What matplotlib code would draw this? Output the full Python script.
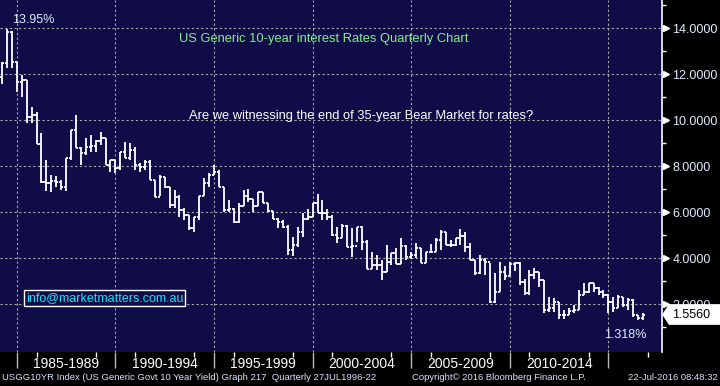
import numpy as np
import matplotlib
matplotlib.use("Agg")
import matplotlib.pyplot as plt
import matplotlib.transforms as mtransforms
from matplotlib.collections import LineCollection
from matplotlib.patches import Polygon

plt.rcParams['font.family'] = ['Liberation Sans', 'DejaVu Sans']

# US 10y yield, quarterly bars 1984 Q1 .. 2016 Q3
first_open = 11.88
highs = [12.53, 13.95, 13.88, 12.53, 11.97, 11.75, 10.58, 10.36, 9.45, 8.27,
         7.62, 7.58, 7.40, 8.36, 9.58, 10.23, 8.84, 9.23, 9.36, 9.14,
         9.49, 9.23, 8.27, 8.27, 8.62, 9.06, 9.01, 8.84, 8.14, 8.27,
         8.27, 7.40, 7.62, 7.54, 7.10, 6.97, 6.75, 6.19, 5.88, 5.80,
         6.71, 7.49, 7.71, 8.06, 7.84, 7.10, 6.54, 6.19, 6.40, 6.97,
         7.01, 6.58, 6.88, 6.88, 6.40, 6.06, 5.75, 5.67, 5.45, 4.93,
         5.36, 5.97, 6.14, 6.40, 6.80, 6.54, 6.14, 5.88, 5.36, 5.49,
         5.45, 5.32, 5.36, 5.40, 4.80, 4.27, 4.14, 3.93, 4.58, 4.23,
         4.45, 4.88, 4.58, 4.27, 4.67, 4.45, 4.27, 4.62, 4.88, 5.23,
         5.14, 4.80, 4.88, 5.27, 5.14, 4.67, 3.93, 4.14, 4.01, 3.80,
         3.36, 3.84, 3.66, 3.84, 3.84, 3.84, 3.10, 3.49, 3.58, 3.40,
         3.06, 2.32, 2.27, 2.10, 1.75, 1.84, 1.97, 2.62, 2.93, 2.93,
         2.93, 2.75, 2.62, 2.45, 2.32, 2.40, 2.32, 2.27, 2.25, 1.54,
         1.60]
lows = [11.58, 12.27, 12.27, 11.23, 11.01, 9.88, 9.88, 8.97, 7.27, 6.93,
        6.88, 7.10, 6.97, 6.93, 8.27, 8.80, 8.06, 8.49, 8.62, 8.62,
        8.93, 8.06, 7.75, 7.71, 7.84, 8.36, 8.27, 7.84, 7.75, 7.84,
        7.40, 6.67, 6.71, 7.06, 6.19, 6.19, 5.80, 5.67, 5.23, 5.14,
        5.67, 6.71, 7.10, 7.62, 7.10, 6.01, 6.01, 5.53, 5.53, 6.27,
        6.45, 6.01, 6.27, 6.40, 6.01, 5.71, 5.32, 5.32, 4.14, 4.10,
        4.49, 4.93, 5.67, 5.80, 5.97, 5.67, 5.67, 4.97, 4.67, 4.88,
        4.49, 4.06, 4.71, 4.36, 3.53, 3.53, 3.49, 3.06, 3.40, 3.71,
        3.75, 3.75, 3.93, 3.97, 4.01, 3.80, 3.80, 4.23, 4.27, 4.36,
        4.58, 4.49, 4.53, 4.58, 4.27, 3.93, 3.27, 3.30, 3.27, 2.06,
        2.06, 2.54, 3.06, 3.23, 3.45, 2.84, 2.40, 2.40, 3.10, 2.75,
        1.62, 1.67, 1.67, 1.37, 1.37, 1.54, 1.62, 1.75, 2.40, 2.49,
        2.54, 2.40, 2.27, 1.62, 1.67, 1.84, 1.88, 1.75, 1.45, 1.32,
        1.318]
closes = [12.49, 13.84, 12.53, 11.67, 11.75, 10.14, 10.23, 8.97, 7.32, 7.27,
          7.36, 7.32, 7.10, 8.36, 9.58, 8.80, 8.58, 8.84, 8.88, 9.10,
          9.23, 8.06, 8.27, 7.93, 8.62, 8.36, 8.71, 8.06, 7.97, 8.19,
          7.40, 6.67, 7.54, 7.10, 6.32, 6.67, 6.10, 5.88, 5.32, 5.80,
          6.71, 7.27, 7.62, 7.75, 7.10, 6.10, 6.14, 5.58, 6.27, 6.71,
          6.58, 6.27, 6.88, 6.40, 6.06, 5.71, 5.58, 5.36, 4.36, 4.58,
          5.14, 5.71, 5.80, 6.40, 5.97, 5.97, 5.80, 5.01, 4.88, 5.40,
          4.49, 4.53, 5.36, 4.71, 3.53, 3.71, 3.71, 3.40, 3.84, 4.23,
          3.75, 4.53, 4.06, 4.14, 4.45, 3.80, 4.27, 4.27, 4.80, 5.14,
          4.58, 4.58, 4.88, 4.97, 4.49, 3.93, 3.36, 3.93, 3.84, 2.10,
          2.54, 3.40, 3.23, 3.75, 3.80, 2.97, 2.49, 3.27, 3.40, 3.06,
          1.75, 1.84, 2.10, 1.54, 1.54, 1.71, 1.75, 2.40, 2.54, 2.93,
          2.71, 2.54, 2.40, 2.10, 1.84, 2.32, 1.97, 2.19, 1.54, 1.40,
          1.556]
opens = [first_open] + closes[:-1]
quarters = 1984.25 + 0.25 * np.arange(len(closes))  # plotted at quarter end

period_starts = [1985, 1990, 1995, 2000, 2005, 2010]
period_labels = ["1985-1989", "1990-1994", "1995-1999", "2000-2004",
                 "2005-2009", "2010-2014"]
grid_years = [1985, 1990, 1995, 2000, 2005, 2010, 2015]
small_ticks = [1986, 1989, 1991, 1994, 1996, 1999, 2001, 2004, 2006, 2009,
               2011, 2014, 2017]
y_major = [2, 4, 6, 8, 10, 12, 14]
y_minor = [1, 3, 5, 7, 9, 11, 13, 15]

NAVY = '#0f0c47'
LABEL = '#e2ecff'
W, H = 720, 386

fig = plt.figure(figsize=(7.2, 3.86), dpi=100, facecolor='black')
ax = fig.add_axes([0, 1 - 352 / H, 662 / W, 352 / H])
ax.set_facecolor(NAVY)
ax.set_xlim(1984.148, 2017.72)
ax.set_ylim(-0.074, 15.23)

# bars: high-low line, open tick left, close tick right
w = 0.11
segs = []
for t, o, h, l, c in zip(quarters, opens, highs, lows, closes):
    segs.append([(t, l), (t, h)])
    segs.append([(t - w, o), (t, o)])
    segs.append([(t, c), (t + w, c)])
ax.add_collection(LineCollection(segs, colors='white', linewidths=1.3, zorder=3))

# grid
ax.set_xticks(grid_years)
ax.set_xticks(small_ticks, minor=True)
ax.set_xticklabels([])
ax.set_yticks(y_major)
ax.set_yticks(y_minor, minor=True)
ax.set_yticklabels([f"{v:.4f}" for v in y_major])
ax.grid(True, which='major', color='#a8a8a8', linestyle=(0, (2, 2.2)), linewidth=0.8)

ax.tick_params(axis='x', which='major', length=11.5, width=1, color='#b8b8b8')
ax.tick_params(axis='x', which='minor', length=3.5, width=1, color='white')
ax.tick_params(axis='y', which='both', left=False, labelleft=False,
               right=True, labelright=True)
ax.tick_params(axis='y', which='major', length=0, pad=7.5,
               labelsize=9, labelcolor=LABEL)
ax.tick_params(axis='y', which='minor', length=3, width=1, color='white')

for s in ['top', 'left', 'bottom']:
    ax.spines[s].set_visible(False)
ax.spines['right'].set_color('white')
ax.spines['right'].set_linewidth(1.2)

trans_y = mtransforms.blended_transform_factory(ax.transAxes, ax.transData)
ax.plot(np.full(len(y_major), 1.006), y_major, ls='none', marker='>', ms=4,
        color='white', transform=trans_y, clip_on=False)

# period labels under the axis
trans_x = mtransforms.blended_transform_factory(ax.transData, ax.transAxes)
for s, lab in zip(period_starts, period_labels):
    ax.text(s + 2.5, -10 / 352, lab, transform=trans_x, ha='center',
            va='center_baseline', color='white', fontsize=10)

# last value flag
last = closes[-1]
flag = Polygon([(1.0015, last), (1.011, last + 0.42), (1.1, last + 0.42),
                (1.1, last - 0.42), (1.011, last - 0.42)], closed=True,
               facecolor='white', edgecolor='white', transform=trans_y,
               clip_on=False, zorder=5)
ax.add_patch(flag)
ax.text(1.0145, last, f"{last:.4f}", transform=trans_y, ha='left',
        va='center', fontsize=9, color='black', zorder=6, clip_on=False)

# annotations
fig.text(179 / W, 1 - 39 / H, "US Generic 10-year interest Rates Quarterly Chart",
         color='#86ee8e', fontsize=9.3, ha='left', va='center')
fig.text(189 / W, 1 - 116 / H,
         "Are we witnessing the end of 35-year Bear Market for rates?",
         color='white', fontsize=9.3, ha='left', va='center')
fig.text(12 / W, 1 - 20 / H, "13.95%", color=LABEL, fontsize=9,
         ha='left', va='center')
fig.text(604 / W, 1 - 335 / H, "1.318%", color=LABEL, fontsize=9,
         ha='left', va='center')
fig.text(2 / W, 1 - 3 / H, "12.74", color=LABEL, fontsize=9,
         ha='left', va='bottom')
fig.text(26 / W, 1 - 298 / H, "info@marketmatters.com.au", color='#19e3f5',
         fontsize=9, ha='left', va='center',
         bbox=dict(boxstyle='square,pad=0.15', facecolor=NAVY,
                   edgecolor='white', linewidth=1))

# footer
foot = dict(color='#d6e2ff', fontsize=6.8, va='center')
fig.text(2 / W, 1 - 378 / H,
         "USGG10YR Index (US Generic Govt 10 Year Yield) Graph 217  Quarterly 27JUL1996-22",
         ha='left', **foot)
fig.text(412 / W, 1 - 378 / H, "Copyright\u00a9 2016 Bloomberg Finance L.P.",
         ha='left', **foot)
fig.text(718 / W, 1 - 378 / H, "22-Jul-2016 08:48:32", ha='right', **foot)

fig.savefig("out.png", dpi=100, facecolor='black')
